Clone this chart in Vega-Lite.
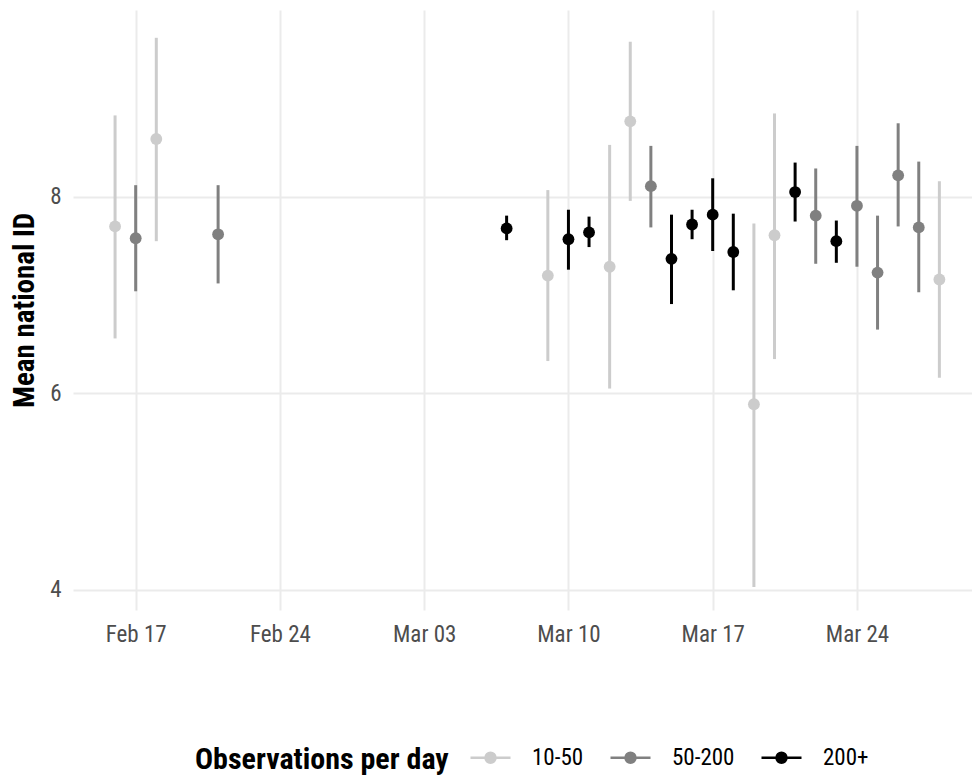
{
  "$schema": "https://vega.github.io/schema/vega-lite/v6.json",
  "width": 899,
  "height": 600,
  "autosize": {"type": "none"},
  "padding": {"left": 73, "top": 10, "right": 0, "bottom": 165},
  "background": "white",
  "config": {
    "font": "Roboto Condensed, Liberation Sans Narrow, Roboto",
    "view": {"stroke": null},
    "axis": {
      "domain": false,
      "ticks": false,
      "gridColor": "#ebebeb",
      "gridWidth": 2,
      "labelColor": "#4d4d4d",
      "labelFontSize": 23,
      "labelFont": "Roboto Condensed, Liberation Sans Narrow, Roboto"
    }
  },
  "data": {
    "values": [
      {"date": "2021-02-16", "mean": 7.70, "lo": 6.56, "hi": 8.83, "obs": "10-50"},
      {"date": "2021-02-17", "mean": 7.58, "lo": 7.04, "hi": 8.12, "obs": "50-200"},
      {"date": "2021-02-18", "mean": 8.59, "lo": 7.55, "hi": 9.62, "obs": "10-50"},
      {"date": "2021-02-21", "mean": 7.62, "lo": 7.12, "hi": 8.12, "obs": "50-200"},
      {"date": "2021-03-07", "mean": 7.68, "lo": 7.56, "hi": 7.81, "obs": "200+"},
      {"date": "2021-03-09", "mean": 7.20, "lo": 6.33, "hi": 8.07, "obs": "10-50"},
      {"date": "2021-03-10", "mean": 7.57, "lo": 7.26, "hi": 7.87, "obs": "200+"},
      {"date": "2021-03-11", "mean": 7.64, "lo": 7.49, "hi": 7.80, "obs": "200+"},
      {"date": "2021-03-12", "mean": 7.29, "lo": 6.05, "hi": 8.53, "obs": "10-50"},
      {"date": "2021-03-13", "mean": 8.77, "lo": 7.96, "hi": 9.58, "obs": "10-50"},
      {"date": "2021-03-14", "mean": 8.11, "lo": 7.69, "hi": 8.52, "obs": "50-200"},
      {"date": "2021-03-15", "mean": 7.37, "lo": 6.91, "hi": 7.82, "obs": "200+"},
      {"date": "2021-03-16", "mean": 7.72, "lo": 7.57, "hi": 7.87, "obs": "200+"},
      {"date": "2021-03-17", "mean": 7.82, "lo": 7.45, "hi": 8.19, "obs": "200+"},
      {"date": "2021-03-18", "mean": 7.44, "lo": 7.05, "hi": 7.83, "obs": "200+"},
      {"date": "2021-03-19", "mean": 5.89, "lo": 4.03, "hi": 7.73, "obs": "10-50"},
      {"date": "2021-03-20", "mean": 7.61, "lo": 6.35, "hi": 8.85, "obs": "10-50"},
      {"date": "2021-03-21", "mean": 8.05, "lo": 7.75, "hi": 8.35, "obs": "200+"},
      {"date": "2021-03-22", "mean": 7.81, "lo": 7.32, "hi": 8.29, "obs": "50-200"},
      {"date": "2021-03-23", "mean": 7.55, "lo": 7.33, "hi": 7.76, "obs": "200+"},
      {"date": "2021-03-24", "mean": 7.91, "lo": 7.29, "hi": 8.52, "obs": "50-200"},
      {"date": "2021-03-25", "mean": 7.23, "lo": 6.65, "hi": 7.81, "obs": "50-200"},
      {"date": "2021-03-26", "mean": 8.22, "lo": 7.70, "hi": 8.75, "obs": "50-200"},
      {"date": "2021-03-27", "mean": 7.69, "lo": 7.03, "hi": 8.36, "obs": "50-200"},
      {"date": "2021-03-28", "mean": 7.16, "lo": 6.16, "hi": 8.16, "obs": "10-50"}
    ]
  },
  "encoding": {
    "x": {
      "field": "date",
      "type": "temporal",
      "scale": {
        "type": "utc",
        "domain": [
          {"year": 2021, "month": 2, "date": 13, "hours": 23, "utc": true},
          {"year": 2021, "month": 3, "date": 29, "hours": 14, "utc": true}
        ]
      },
      "axis": {
        "title": null,
        "format": "%b %d",
        "labelPadding": 13,
        "values": [
          {"year": 2021, "month": 2, "date": 17, "utc": true},
          {"year": 2021, "month": 2, "date": 24, "utc": true},
          {"year": 2021, "month": 3, "date": 3, "utc": true},
          {"year": 2021, "month": 3, "date": 10, "utc": true},
          {"year": 2021, "month": 3, "date": 17, "utc": true},
          {"year": 2021, "month": 3, "date": 24, "utc": true}
        ]
      }
    },
    "color": {
      "field": "obs",
      "type": "nominal",
      "scale": {
        "domain": ["10-50", "50-200", "200+"],
        "range": ["#cccccc", "#808080", "#000000"]
      },
      "legend": {
        "title": "Observations per day",
        "orient": "none",
        "legendX": 122,
        "legendY": 726,
        "direction": "horizontal",
        "titleOrient": "left",
        "titleAnchor": "middle",
        "titleBaseline": "middle",
        "titleLimit": 0,
        "titleFontSize": 30,
        "titleFontWeight": "bold",
        "titleColor": "#000000",
        "titleFont": "Roboto Condensed, Liberation Sans Narrow, Roboto",
        "titlePadding": 20,
        "labelFontSize": 23,
        "labelColor": "#000000",
        "labelFont": "Roboto Condensed, Liberation Sans Narrow, Roboto",
        "labelOffset": 20,
        "columnPadding": 21,
        "symbolType": "M-1,0H1M-0.25,0A0.25,0.25 0 1,1 0.25,0A0.25,0.25 0 1,1 -0.25,0Z",
        "symbolSize": 1600,
        "symbolStrokeWidth": 2.5,
        "symbolOpacity": 1,
        "encode": {
          "title": {
            "update": {"dy": {"value": 7}}
          },
          "symbols": {
            "update": {
              "stroke": {"scale": "color", "field": "value"},
              "fill": {"scale": "color", "field": "value"}
            }
          }
        }
      }
    }
  },
  "layer": [
    {
      "mark": {"type": "rule", "strokeWidth": 3},
      "encoding": {
        "y": {
          "field": "lo",
          "type": "quantitative",
          "scale": {"domain": [3.796, 9.903], "nice": false, "zero": false},
          "axis": {
            "title": "Mean national ID",
            "titleFontSize": 29,
            "titleFontWeight": "bold",
            "titleColor": "#000000",
            "titleFont": "Roboto Condensed, Liberation Sans Narrow, Roboto",
            "titlePadding": 10,
            "values": [4, 6, 8],
            "format": "d",
            "labelPadding": 12
          }
        },
        "y2": {"field": "hi"}
      }
    },
    {
      "mark": {"type": "point", "filled": true, "size": 140, "opacity": 1, "shape": "circle"},
      "encoding": {
        "y": {"field": "mean", "type": "quantitative"}
      }
    }
  ]
}
